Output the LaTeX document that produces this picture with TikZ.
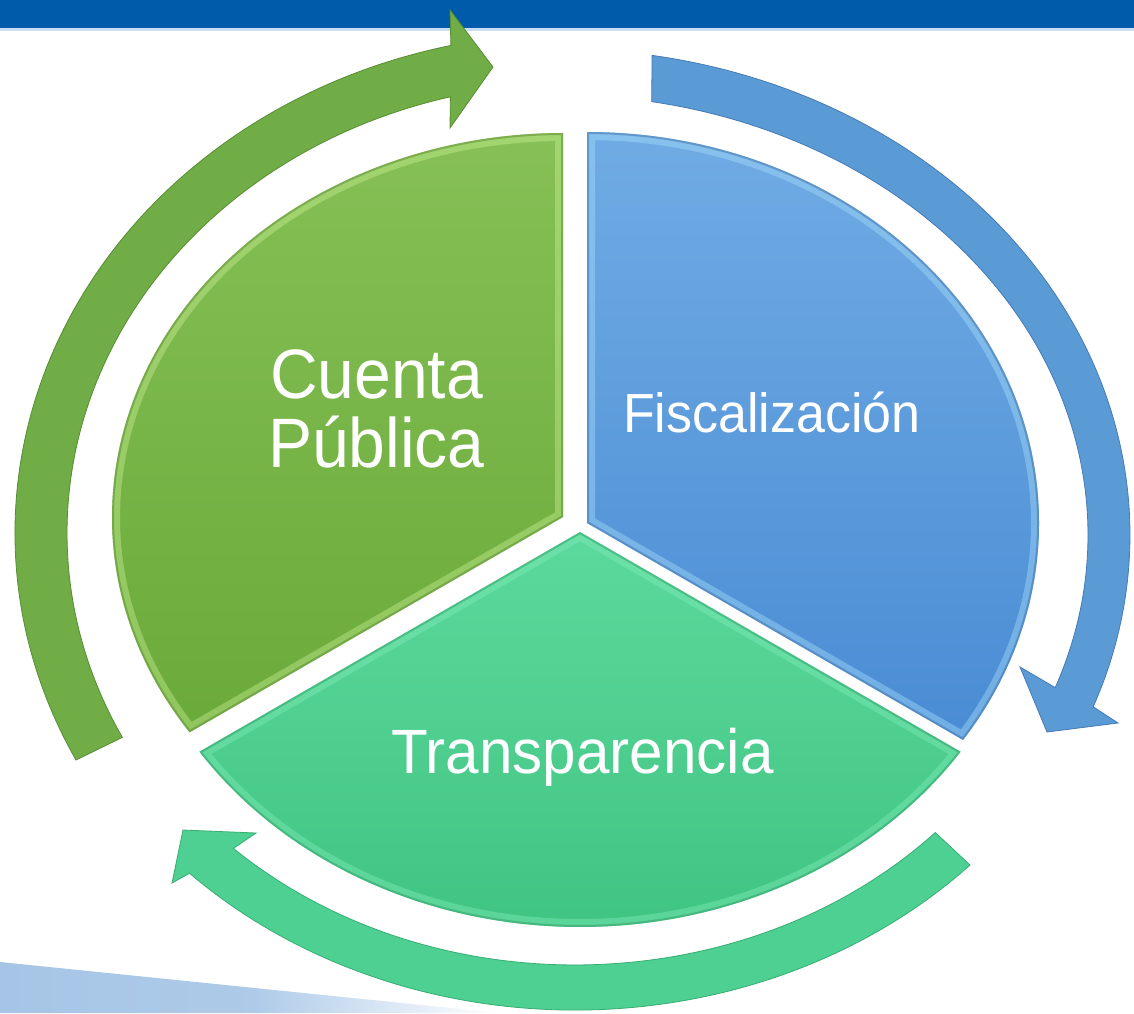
\documentclass[tikz,border=0pt]{standalone}
\usepackage{fontspec}
\setmainfont{Liberation Sans}
\usepackage{graphicx}
\definecolor{barblue}{RGB}{0,91,170}
\definecolor{barline}{RGB}{200,222,244}
\definecolor{bandblue}{RGB}{166,197,230}
\definecolor{gtop}{RGB}{134,192,86}
\definecolor{gbot}{RGB}{106,170,58}
\definecolor{ghi}{RGB}{205,242,150}
\definecolor{gdark}{RGB}{78,128,42}
\definecolor{btop}{RGB}{112,171,228}
\definecolor{bbot}{RGB}{74,140,212}
\definecolor{bhi}{RGB}{170,226,252}
\definecolor{bdark}{RGB}{52,100,160}
\definecolor{ttop}{RGB}{92,217,157}
\definecolor{tbot}{RGB}{64,196,130}
\definecolor{thi}{RGB}{130,238,186}
\definecolor{tdark}{RGB}{40,150,95}
\definecolor{garrow}{RGB}{112,173,71}
\definecolor{barrow}{RGB}{91,155,213}
\definecolor{tarrow}{RGB}{77,208,146}
\newcommand{\SecGreen}[1]{\path[#1] (563,517) -- (189.6,732.3) arc[start angle=145.9,end angle=270,x radius=451,y radius=384] -- cycle;}
\newcommand{\SecBlue}[1]{\path[#1] (587,523) -- (587,132) arc[start angle=-90,end angle=33.7,x radius=452,y radius=391] -- cycle;}
\newcommand{\SecTeal}[1]{\path[#1] (580,532) -- (960.6,751.7) arc[start angle=33.8,end angle=146.2,x radius=458,y radius=395] -- cycle;}
\tikzset{
  sectortext/.style={text=white, inner sep=0pt, outer sep=0pt},
  hiband/.style={line width=16pt, opacity=0.4},
  edgeband/.style={line width=4pt, opacity=0.45},
  arrowshape/.style={line width=0.8pt, line join=miter},
}
\begin{document}
\begin{tikzpicture}[x=1pt,y=-1pt]
\useasboundingbox (0,0) rectangle (1134,1013);
\fill[white] (0,0) rectangle (1134,1013);
% bottom-left band
\shade[left color=bandblue, right color=white, middle color=bandblue!92!white] (0,962) -- (500,1013) -- (0,1013) -- cycle;
% top bar
\fill[barblue] (0,0) rectangle (1134,28);
\fill[barline] (0,28) rectangle (1134,30.5);

% sectors
\SecGreen{top color=gtop, bottom color=gbot}
\begin{scope}
  \SecGreen{clip}
  \SecGreen{draw=ghi, hiband}
  \SecGreen{draw=gdark, edgeband}
\end{scope}
\SecBlue{top color=btop, bottom color=bbot}
\begin{scope}
  \SecBlue{clip}
  \SecBlue{draw=bhi, hiband}
  \SecBlue{draw=bdark, edgeband}
\end{scope}
\SecTeal{top color=ttop, bottom color=tbot}
\begin{scope}
  \SecTeal{clip}
  \SecTeal{draw=thi, hiband}
  \SecTeal{draw=tdark, edgeband}
\end{scope}

% circular arrows
\path[arrowshape, fill=garrow, draw=gdark!70!garrow]
  (76.0,760.0) arc[start angle=153,end angle=257.2,x radius=560,y radius=500]
  -- (450,10) -- (493,67) -- (450,128) -- (450.4,96.8)
  arc[start angle=255.8,end angle=153,x radius=508,y radius=450] -- cycle;
\path[arrowshape, fill=barrow, draw=bdark!60!barrow]
  (652.1,55.4) arc[start angle=-80.7,end angle=20.7,x radius=570,y radius=486]
  -- (1118,723) -- (1047,732) -- (1020,667) -- (1055.2,687.6)
  arc[start angle=20.3,end angle=-80,x radius=528,y radius=440] -- cycle;
\path[arrowshape, fill=tarrow, draw=tdark!60!tarrow]
  (970.0,865.0) arc[start angle=44.1,end angle=134.5,x radius=550,y radius=477]
  -- (172,883) -- (183,830) -- (256,833) -- (233.4,848.4)
  arc[start angle=133.1,end angle=43.9,x radius=500,y radius=432] -- cycle;

% labels
\node[sectortext, anchor=base west, font=\fontsize{66}{69}\selectfont] (cuenta) at (270,398) {\scalebox{1}[1.06]{Cuenta}};
\node[sectortext, anchor=base west, font=\fontsize{66}{69}\selectfont] (publica) at (268,467) {\scalebox{1}[1.06]{Pública}};
\node[sectortext, anchor=base west, font=\fontsize{52}{60}\selectfont] (fisc) at (623,432) {\scalebox{1}[1.06]{Fiscalización}};
\node[sectortext, anchor=base west, font=\fontsize{60.2}{70}\selectfont] (transp) at (391,773) {\scalebox{1}[1.04]{Transparencia}};
\end{tikzpicture}
\end{document}
